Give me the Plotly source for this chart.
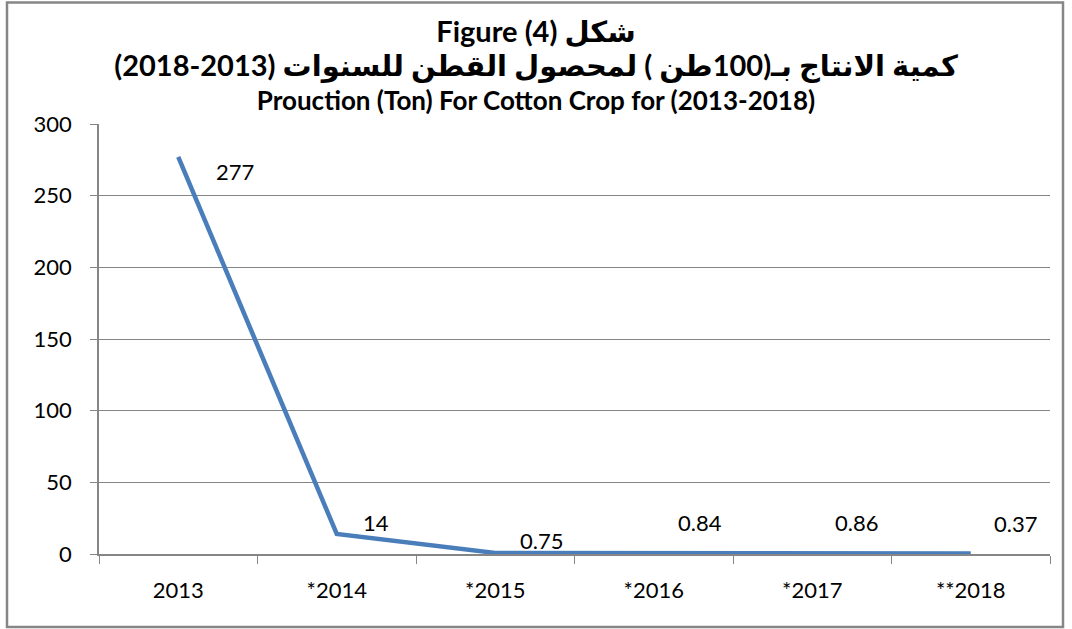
import plotly.graph_objects as go

years = ["2013", "*2014", "*2015", "*2016", "*2017", "**2018"]
production = [277, 14, 0.75, 0.84, 0.86, 0.37]
labels = ["277", "14", "0.75", "0.84", "0.86", "0.37"]
label_dx = [36, 24, 23, 22, 21, 21]
label_dy = [-15, 11, 12, 30, 30, 30]


def rtl(s):
    # right-to-left embedding so the Arabic lines read as in the original
    return "<span style='font-size:29px'>\u202b" + s + "\u202c</span>"


title_lines = [
    rtl("شكل (4) Figure"),
    rtl("كمية الانتاج بـ(100طن ) لمحصول القطن للسنوات (2013-2018)"),
    "Prouction (Ton) For Cotton Crop for (2013-2018)",
]

FONT = "Lato, 'DejaVu Sans', sans-serif"
W, H = 1072, 629
L, R, T, B = 99, 22, 124, 75

idx = list(range(len(years)))

fig = go.Figure()
fig.add_trace(go.Scatter(
    x=idx, y=production, mode="lines",
    line=dict(color="#4A7EBB", width=4.5),
    hoverinfo="skip", showlegend=False,
))

for xv, yv, lab, dx, dy in zip(idx, production, labels, label_dx, label_dy):
    fig.add_annotation(x=xv, y=yv, text=lab, showarrow=False,
                       xanchor="left", yanchor="middle", xshift=dx, yshift=dy,
                       font=dict(family=FONT, size=22, color="black"))

pw = W - L - R
ph = H - T - B
fig.add_shape(type="rect", xref="paper", yref="paper",
              x0=(7 - L) / pw, x1=(1063 - L) / pw,
              y0=(H - B - 627) / ph, y1=(H - B - 2.5) / ph,
              line=dict(color="#868686", width=2.5), fillcolor="rgba(0,0,0,0)")

boundaries = [i - 0.5 for i in range(len(years) + 1)]

fig.update_layout(
    width=W, height=H,
    margin=dict(l=L, r=R, t=T, b=B),
    paper_bgcolor="white", plot_bgcolor="white",
    title=dict(text="<br>".join(title_lines), x=0.5, xanchor="center",
               y=1 - 42 / H, yanchor="middle",
               font=dict(family=FONT, size=26, color="black", weight="bold")),
    xaxis=dict(range=[-0.5, len(years) - 0.5], tickvals=idx, ticktext=years,
               ticks="", showline=True, linecolor="#868686", linewidth=1.5,
               showgrid=False, zeroline=False, ticklabelstandoff=16,
               minor=dict(tickvals=boundaries, ticks="outside", ticklen=8,
                          tickcolor="#868686", showgrid=False),
               tickfont=dict(family=FONT, size=22, color="black")),
    yaxis=dict(range=[0, 300], dtick=50, ticks="outside", ticklen=7,
               tickcolor="#868686", showline=True, linecolor="#868686", linewidth=1.5,
               showgrid=True, gridcolor="#868686", gridwidth=1, zeroline=False,
               ticklabelstandoff=14,
               tickfont=dict(family=FONT, size=22, color="black")),
)

fig.write_html("out.html", config={"displayModeBar": False},
               post_script="document.body.style.margin='0';")
